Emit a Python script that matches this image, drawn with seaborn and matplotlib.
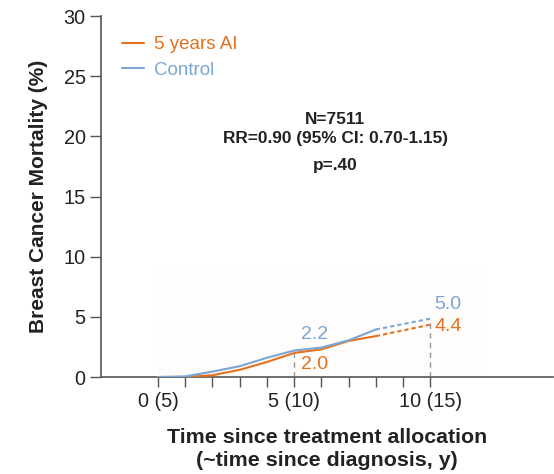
import matplotlib
matplotlib.use("Agg")
import matplotlib.pyplot as plt
import numpy as np
import pandas as pd
import seaborn as sns
from matplotlib.patches import Rectangle

sns.set_theme(style="white")
plt.rcParams['font.family'] = ['Liberation Sans', 'DejaVu Sans']

# Colors
orange = "#e5711f"
blue = "#7aa6d3"
text_col = "#222222"

# Data (cumulative breast cancer mortality, %)
years = [0, 1, 2, 3, 4, 5, 6, 7, 8]
control = [0, 0.05, 0.45, 0.9, 1.6, 2.2, 2.45, 3.05, 3.95]
ai = [0, 0, 0.15, 0.6, 1.25, 2.0, 2.3, 3.0, 3.4]
proj_years = [8, 10]
control_proj = [3.95, 4.85]
ai_proj = [3.4, 4.35]
series = ['5 years AI', 'Control']
xtick_pos = [0, 5, 10]
xtick_labels = ['0 (5)', '5 (10)', '10 (15)']

df = pd.DataFrame({
    'year': years * 2,
    'value': ai + control,
    'group': [series[0]] * len(years) + [series[1]] * len(years),
})
df_proj = pd.DataFrame({
    'year': proj_years * 2,
    'value': ai_proj + control_proj,
    'group': [series[0]] * 2 + [series[1]] * 2,
})
palette = {series[0]: orange, series[1]: blue}

fig = plt.figure(figsize=(5.54, 4.74), dpi=100)
ax = fig.add_axes([0.182, 0.2046, 0.816, 0.7616])

# faint shaded panel behind curves
ax.add_patch(Rectangle((0, 0), 12.1, 8.9, facecolor="#fefdfb", edgecolor="none", zorder=0))

sns.lineplot(data=df, x='year', y='value', hue='group', palette=palette,
             linewidth=1.5, ax=ax, zorder=3)
sns.lineplot(data=df_proj, x='year', y='value', hue='group', palette=palette,
             linewidth=1.5, linestyle=(0, (2, 1.5)), ax=ax, legend=False, zorder=3)

# dashed reference drops
ax.plot([5, 5], [0, ai[5]], color="#999999", linestyle=(0, (4, 3)), linewidth=1, zorder=2)
ax.plot([10, 10], [0, control_proj[1]], color="#999999", linestyle=(0, (4, 3)), linewidth=1, zorder=2)

# value labels
ax.text(5.75, 3.5, '2.2', color=blue, fontsize=14, ha='center', va='center')
ax.text(5.75, 1.0, '2.0', color=orange, fontsize=14, ha='center', va='center')
ax.text(10.65, 6.0, '5.0', color=blue, fontsize=14, ha='center', va='center')
ax.text(10.65, 4.2, '4.4', color=orange, fontsize=14, ha='center', va='center')

# stats annotation
ax.text(6.5, 21.4, 'N=7511', fontsize=12.4, fontweight='bold', color=text_col, ha='center', va='center')
ax.text(6.5, 19.8, 'RR=0.90 (95% CI: 0.70-1.15)', fontsize=12.4, fontweight='bold',
        color=text_col, ha='center', va='center')
ax.text(6.5, 17.6, 'p=.40', fontsize=12.4, fontweight='bold', color=text_col, ha='center', va='center')

ax.set_xlim(-2.1, 14.5)
ax.set_ylim(0, 30)
ax.set_yticks([0, 5, 10, 15, 20, 25, 30])
ax.set_xticks(xtick_pos)
ax.set_xticklabels(xtick_labels)
ax.set_xticks(range(0, 11), minor=True)
ax.tick_params(axis='both', which='both', direction='out', color='#555555', labelcolor=text_col,
               labelsize=14.3, bottom=True, left=True)
ax.tick_params(axis='x', which='both', length=7, width=1, pad=4)
ax.tick_params(axis='y', which='major', length=8, width=1, pad=3)

for s in ['top', 'right']:
    ax.spines[s].set_visible(False)
for s in ['left', 'bottom']:
    ax.spines[s].set_color('#555555')
    ax.spines[s].set_linewidth(1.2)

ax.set_xlabel('Time since treatment allocation\n(~time since diagnosis, y)', fontsize=15.4,
              fontweight='bold', color=text_col, labelpad=12, linespacing=1.3)
ax.set_ylabel('Breast Cancer Mortality (%)', fontsize=15, fontweight='bold', color=text_col, labelpad=11)

leg = ax.legend(loc='upper left', bbox_to_anchor=(0.03, 0.965), frameon=False, fontsize=13.5,
                handlelength=1.2, handletextpad=0.5, labelspacing=0.45, borderaxespad=0)
for txt, c in zip(leg.get_texts(), [orange, blue]):
    txt.set_color(c)

fig.savefig('out.png', dpi=100)
